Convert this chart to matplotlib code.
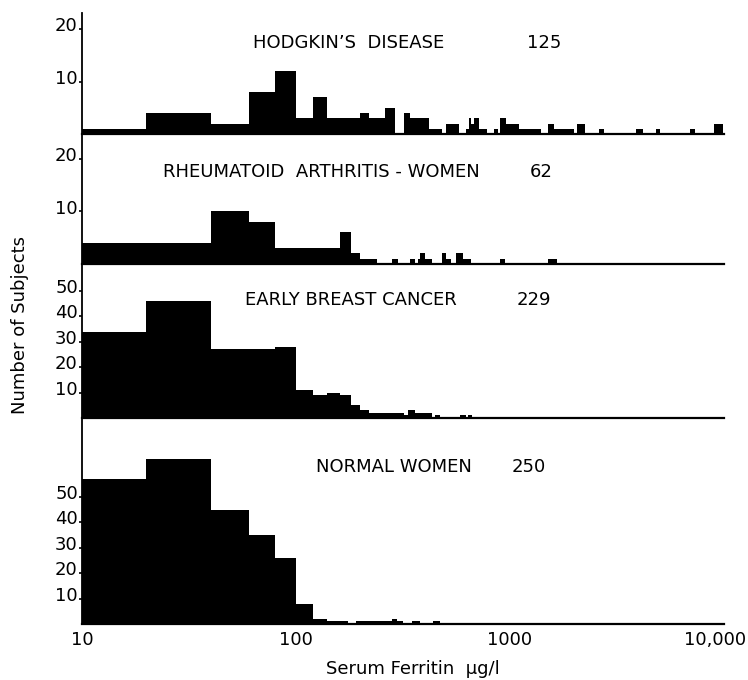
import matplotlib
matplotlib.use("Agg")
import matplotlib.pyplot as plt
from matplotlib.ticker import NullLocator
from matplotlib.transforms import ScaledTranslation

plt.rcParams['font.family'] = ['DejaVu Sans']

# step edges (ug/l) and step heights (number of subjects)
hodgkin_edges = [10, 20, 40, 60, 80, 100, 120, 140, 200, 220, 260, 290, 320, 340, 400, 420,
                 480, 500, 580, 620, 640, 660, 680, 720, 780, 840, 880, 900, 960, 1000, 1100,
                 1400, 1500, 1600, 2000, 2050, 2250, 2600, 2750, 3900, 4200, 4800, 5000, 6900,
                 7300, 9000, 9900]
hodgkin_counts = [1, 4, 2, 8, 12, 3, 7, 3, 4, 3, 5, 0, 4, 3, 3, 1, 0, 2, 0, 1, 3, 2, 3, 1, 0,
                  1, 0, 3, 2, 2, 1, 0, 2, 1, 0, 2, 0, 1, 0, 1, 0, 1, 0, 1, 0, 2]

ra_edges = [10, 40, 60, 80, 160, 180, 200, 240, 280, 300, 340, 360, 370, 380, 400, 430, 480,
            500, 530, 560, 600, 620, 660, 900, 950, 1500, 1650]
ra_counts = [4, 10, 8, 3, 6, 2, 1, 0, 1, 0, 1, 0, 1, 2, 1, 0, 2, 1, 0, 2, 1, 1, 0, 1, 0, 1]

breast_edges = [10, 20, 40, 80, 100, 120, 140, 160, 180, 200, 220, 265, 295, 320, 335, 360,
                390, 430, 445, 470, 585, 625, 635, 665]
breast_counts = [34, 46, 27, 28, 11, 9, 10, 9, 5, 3, 2, 2, 2, 1, 3, 2, 2, 0, 1, 0, 1, 0, 1]

normal_edges = [10, 20, 40, 60, 80, 100, 120, 140, 175, 190, 215, 280, 296, 316, 350, 380,
                437, 470]
normal_counts = [57, 65, 45, 35, 26, 8, 2, 1, 0, 1, 1, 2, 1, 0, 1, 0, 1]

titles = ["HODGKIN\u2019S  DISEASE", "RHEUMATOID  ARTHRITIS - WOMEN",
          "EARLY BREAST CANCER", "NORMAL WOMEN"]
group_sizes = ["125", "62", "229", "250"]
x_ticks = [10, 100, 1000, 10000]
x_tick_labels = ["10", "100", "1000", "10,000"]

W, H = 748, 680
LEFT_PX, RIGHT_PX = 82, 724
FS = 13

fig = plt.figure(figsize=(W / 100, H / 100), dpi=100)


def px_text(x, y, s, **kw):
    fig.text(x / W, 1 - y / H, s, fontsize=FS, va='center', **kw)


def draw_panel(top, bottom, px_per_unit, edges, counts, yticks, show_x=False):
    ax = fig.add_axes([LEFT_PX / W, 1 - bottom / H, (RIGHT_PX - LEFT_PX) / W, (bottom - top) / H])
    ax.stairs(counts, edges, fill=True, color='black', baseline=0)
    ax.set_xscale('log')
    ax.set_xlim(10, 10000)
    ax.set_ylim(0, (bottom - top) / px_per_unit)
    ax.patch.set_alpha(0)
    for s in ['top', 'right']:
        ax.spines[s].set_visible(False)
    ax.spines['left'].set_linewidth(1.3)
    ax.spines['bottom'].set_linewidth(1.6)
    ax.set_yticks(yticks)
    ax.set_yticklabels([str(t) for t in yticks])
    ax.tick_params(axis='y', length=2, width=1.2, pad=1, labelsize=FS)
    # labels sit a little above their tick in the original lettering
    for lab in ax.get_yticklabels():
        lab.set_transform(lab.get_transform() + ScaledTranslation(0, 0.05, fig.dpi_scale_trans))
    ax.xaxis.set_minor_locator(NullLocator())
    ax.set_xticks(x_ticks)
    if show_x:
        ax.set_xticklabels(x_tick_labels)
        ax.tick_params(axis='x', length=0, pad=5, labelsize=FS)
        last = ax.get_xticklabels()[-1]
        last.set_ha('right')
        last.set_transform(last.get_transform() + ScaledTranslation(0.22, 0, fig.dpi_scale_trans))
    else:
        ax.set_xticklabels([])
        ax.tick_params(axis='x', length=0)
    return ax


draw_panel(13, 134, 5.25, hodgkin_edges, hodgkin_counts, [10, 20])
draw_panel(134, 264, 5.25, ra_edges, ra_counts, [10, 20])
draw_panel(264, 418, 2.54, breast_edges, breast_counts, [10, 20, 30, 40, 50])
draw_panel(418, 624, 2.54, normal_edges, normal_counts, [10, 20, 30, 40, 50], show_x=True)

px_text(253, 43, titles[0])
px_text(527, 43, group_sizes[0])
px_text(163, 172, titles[1])
px_text(530, 172, group_sizes[1])
px_text(245, 300, titles[2])
px_text(517, 300, group_sizes[2])
px_text(316, 467, titles[3])
px_text(512, 467, group_sizes[3])

px_text(413, 669, "Serum Ferritin  \u03bcg/l", ha='center')
px_text(20, 325, "Number of Subjects", ha='center', rotation=90)

fig.savefig("out.png", dpi=100)
